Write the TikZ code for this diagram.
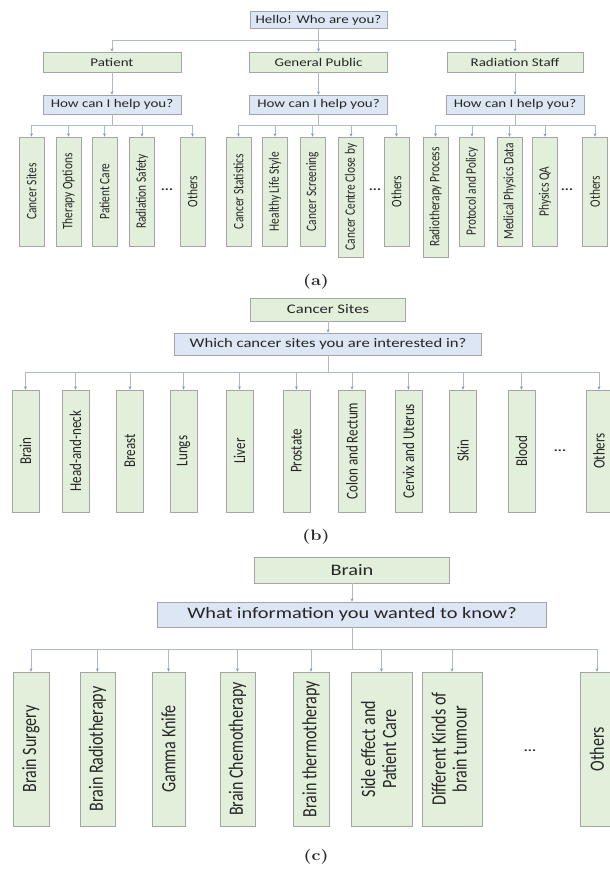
\documentclass[tikz,border=0pt]{standalone}
\usepackage{fontspec}
\usepackage{graphicx}
\usetikzlibrary{arrows.meta}
\newfontfamily\hfont[FakeStretch=1.27]{Carlito}
\newfontfamily\vfont[FakeStretch=0.79]{Carlito}
\definecolor{boxgreen}{HTML}{E2EFDA}
\definecolor{boxblue}{HTML}{DCE6F4}
\definecolor{boxline}{HTML}{A5A5A5}
\definecolor{wire}{HTML}{B0BAC6}
\definecolor{tip}{HTML}{7F97B8}
\definecolor{ink}{HTML}{262626}
\tikzset{
  box/.style={draw=boxline, line width=0.9pt, inner sep=0pt, text=ink, align=center},
  gbox/.style={box, fill=boxgreen},
  qbox/.style={box, fill=boxblue},
  wireline/.style={draw=wire, line width=0.8pt},
  arr/.style={wireline, -{Stealth[length=3.2pt,width=3pt,color=tip]}},
  headA/.style={font=\hfont\fontsize{11.8}{13}\selectfont},
  leafA/.style={gbox, minimum width=25, minimum height=109, font=\vfont\fontsize{14.4}{15}\selectfont},
  headB/.style={font=\hfont\fontsize{13.1}{14}\selectfont},
  leafB/.style={gbox, minimum width=27, minimum height=122, font=\vfont\fontsize{16.5}{17}\selectfont},
  headC/.style={font=\hfont\fontsize{16}{18}\selectfont},
  leafC/.style={gbox, minimum height=154, font=\vfont\fontsize{20.3}{21}\selectfont},
  dotsnode/.style={text=ink, font=\hfont\bfseries\fontsize{12}{12}\selectfont},
  captext/.style={text=ink, font=\bfseries\fontsize{15}{17}\selectfont}
}
\begin{document}
\begin{tikzpicture}[x=1pt, y=-1pt]
\useasboundingbox[fill=white] (0,0) rectangle (610,870);

% (a) who is asking
\node[qbox, headA, minimum width=137, minimum height=17] (hello) at (318.5,20) {Hello! Who are you?};
\node[gbox, headA, minimum width=138, minimum height=20] (patient) at (112,62) {Patient};
\node[gbox, headA, minimum width=138, minimum height=20] (public) at (318.5,62) {General Public};
\node[gbox, headA, minimum width=136, minimum height=20] (staff) at (515,62) {Radiation Staff};
\foreach \x/\nm in {112/helpA, 318.5/helpB, 515/helpC}
  \node[qbox, headA, minimum width=138, minimum height=19] (\nm) at (\x,104.5) {How can I help you?};

\foreach \x/\nm/\txt in {31.5/sites/Cancer Sites, 68.5/therapy/Therapy Options, 104.5/care/Patient Care,
    142/safety/Radiation Safety, 192.5/otherA/Others, 238.5/stats/Cancer Statistics,
    275/life/Healthy Life Style, 312.5/screen/Cancer Screening, 396.5/otherB/Others,
    472/policy/Protocol and Policy, 509.5/mpdata/Medical Physics Data, 545/qa/Physics QA, 595/otherC/Others}
  \node[leafA] (\nm) at (\x,191.5) {\rotatebox{90}{\txt}};
\foreach \x/\nm/\txt in {351/close/Cancer Centre Close by, 435.5/process/Radiotherapy Process}
  \node[leafA, minimum height=120] (\nm) at (\x,197) {\rotatebox{90}{\txt}};
\node[dotsnode] (moreA) at (167,190) {...};
\node[dotsnode] (moreB) at (375,190) {...};
\node[dotsnode] (moreC) at (567,190) {...};

\coordinate (busTop) at (318.5,40);
\draw[wireline] (hello) -- (busTop);
\draw[wireline] (busTop -| patient) -- (busTop -| staff);
\foreach \nm in {patient,public,staff}
  \draw[arr] (busTop -| \nm) -- (\nm);
\draw[arr] (patient) -- (helpA);
\draw[arr] (public) -- (helpB);
\draw[arr] (staff) -- (helpC);

\coordinate (busA) at (112,125);
\coordinate (busB) at (318.5,125);
\coordinate (busC) at (515,125);
\draw[wireline] (helpA) -- (busA);
\draw[wireline] (helpB) -- (busB);
\draw[wireline] (helpC) -- (busC);
\draw[wireline] (busA -| sites) -- (busA -| otherA);
\draw[wireline] (busB -| stats) -- (busB -| otherB);
\draw[wireline] (busC -| process) -- (busC -| otherC);
\foreach \nm in {sites,therapy,care,safety,otherA}
  \draw[arr] (busA -| \nm) -- (\nm);
\foreach \nm in {stats,life,screen,close,otherB}
  \draw[arr] (busB -| \nm) -- (\nm);
\foreach \nm in {process,policy,mpdata,qa,otherC}
  \draw[arr] (busC -| \nm) -- (\nm);
\node[captext] (capA) at (316,282) {\scalebox{1.2}[1]{(a)}};

% (b) cancer sites
\node[gbox, headB, minimum width=155, minimum height=23] (sitesB) at (328,309.5) {Cancer Sites};
\node[qbox, headB, minimum width=307, minimum height=22] (whichB) at (328,344) {Which cancer sites you are interested in?};
\foreach \x/\nm/\txt in {25.5/brain/Brain, 75.5/headneck/Head-and-neck, 130/breast/Breast, 183.5/lungs/Lungs,
    239.5/liver/Liver, 296.5/prostate/Prostate, 352/colon/Colon and Rectum, 408.5/cervix/Cervix and Uterus,
    463/skin/Skin, 521.5/blood/Blood}
  \node[leafB] (\nm) at (\x,451) {\rotatebox{90}{\txt}};
\node[leafB, minimum width=26] (otherD) at (599,451) {\rotatebox{90}{Others}};
\node[dotsnode] (moreD) at (560,451) {...};
\coordinate (busD) at (328,372);
\draw[arr] (sitesB) -- (whichB);
\draw[wireline] (whichB) -- (busD);
\draw[wireline] (busD -| brain) -- (busD -| otherD);
\foreach \nm in {brain,headneck,breast,lungs,liver,prostate,colon,cervix,skin,blood,otherD}
  \draw[arr] (busD -| \nm) -- (\nm);
\node[captext] (capB) at (316,537) {\scalebox{1.2}[1]{(b)}};

% (c) brain
\node[gbox, headC, minimum width=195, minimum height=26] (brainC) at (352,570) {Brain};
\node[qbox, headC, minimum width=389, minimum height=25] (infoC) at (352,614.5) {What information you wanted to know?};
\foreach \x/\w/\nm/\txt in {31/36/surgery/Brain Surgery, 97.5/35/radio/Brain Radiotherapy,
    168.5/33/gamma/Gamma Knife, 237.5/35/chemo/Brain Chemotherapy, 311/36/thermo/Brain thermotherapy,
    597/34/otherE/Others}
  \node[leafC, minimum width=\w] (\nm) at (\x,749) {\rotatebox{90}{\txt}};
\node[leafC, minimum width=61] (sidefx) at (381.5,749)
  {\rotatebox{90}{\begin{tabular}{@{}c@{}}Side effect and\\Patient Care\end{tabular}}};
\node[leafC, minimum width=60] (kinds) at (452,749)
  {\rotatebox{90}{\begin{tabular}{@{}c@{}}Different Kinds of\\brain tumour\end{tabular}}};
\node[dotsnode] (moreE) at (530,751) {...};
\coordinate (busE) at (352,649);
\draw[arr] (brainC) -- (infoC);
\draw[wireline] (infoC) -- (busE);
\draw[wireline] (busE -| surgery) -- (busE -| otherE);
\foreach \nm in {surgery,radio,gamma,chemo,thermo,sidefx,kinds,otherE}
  \draw[arr] (busE -| \nm) -- (\nm);
\node[captext] (capC) at (316,857) {\scalebox{1.2}[1]{(c)}};
\end{tikzpicture}
\end{document}
